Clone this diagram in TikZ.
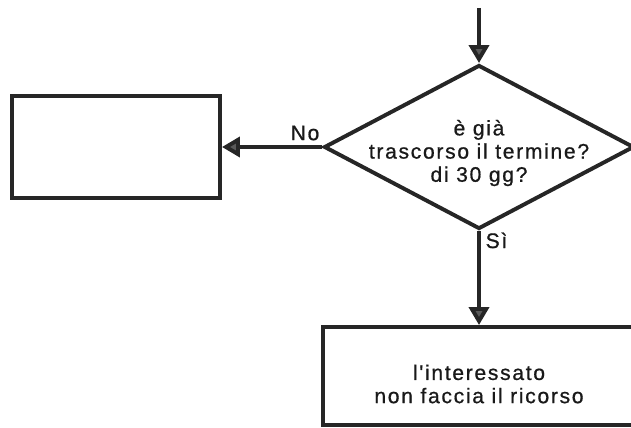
\documentclass[tikz,border=0pt]{standalone}
\usepackage{fontspec}
\newfontfamily\flowfont[LetterSpace=8, FakeBold=0.8]{Liberation Sans}
\usetikzlibrary{positioning,arrows.meta,shapes.geometric}

\begin{document}
\begin{tikzpicture}[
    line width=2.8pt,
    every node/.style={font=\flowfont\fontsize{15}{16.5}\selectfont, text=black!90},
    block/.style={rectangle, draw=black!85, minimum width=7.8cm, minimum height=2.45cm, align=center, inner sep=0pt},
    emptybox/.style={rectangle, draw=black!85, minimum width=5.2cm, minimum height=2.55cm, inner sep=0pt},
    decision/.style={diamond, draw=black!85, aspect=1.9, minimum width=7.75cm, minimum height=4.1cm, inner sep=0pt},
    arrow/.style={-{Triangle[length=4.5mm, width=5mm, fill=black!65]}, draw=black!85}
]
\useasboundingbox (0,0) rectangle (15.775,10.675);
\clip (0,0) rectangle (15.775,10.675);

% Decision
\node[decision] (dec) at (11.975,7.0) {};
\node[align=center, yshift=-1.5mm] (dectext) at (dec) {è già\\trascorso il termine?\\di 30 gg?};

% Incoming flow
\coordinate (in) at (11.975,10.475);
\draw[arrow] (in) -- (dec.north);

% No branch
\node[emptybox] (nobox) at (2.9,7.0) {};
\draw[arrow] (dec.west) -- node[pos=0.17, above] {No} (nobox.east);

% Yes branch
\node[block] (yesbox) at (11.975,1.275) {};
\node[align=center, yshift=-2mm] (yestext) at (yesbox) {l'interessato\\non faccia il ricorso};
\draw[arrow] (dec.south) -- node[pos=0.1, right] {Sì} (yesbox.north);

\end{tikzpicture}
\end{document}
